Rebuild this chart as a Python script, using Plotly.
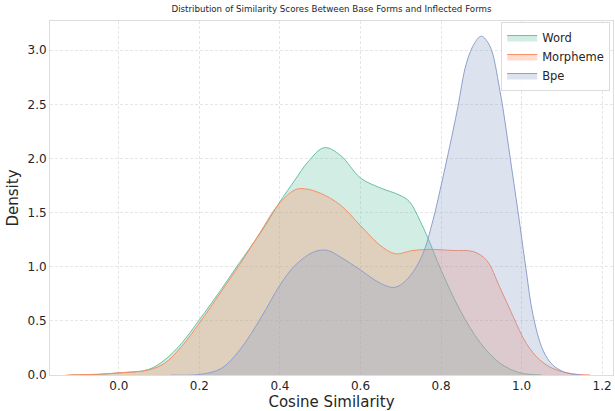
import plotly.graph_objects as go

# ---- data ----
word_x = [-0.12, -0.05, 0.0, 0.073, 0.114, 0.155, 0.2, 0.254, 0.3, 0.353, 0.4, 0.437, 0.47, 0.51,
          0.55, 0.6, 0.648, 0.698, 0.722, 0.747, 0.768, 0.8, 0.847, 0.897, 0.946, 0.996, 1.05]
word_y = [0.0, 0.005, 0.02, 0.05, 0.14, 0.29, 0.51, 0.79, 1.04, 1.32, 1.6, 1.80, 1.97, 2.10,
          2.03, 1.82, 1.73, 1.66, 1.6, 1.43, 1.26, 0.97, 0.6, 0.30, 0.11, 0.02, 0.0]

morph_x = [-0.13, -0.05, 0.0, 0.073, 0.114, 0.155, 0.2, 0.254, 0.3, 0.353, 0.395, 0.437, 0.461,
           0.5, 0.55, 0.6, 0.648, 0.686, 0.73, 0.772, 0.83, 0.88, 0.913, 0.946, 0.979, 1.012,
           1.045, 1.078, 1.128, 1.17]
morph_y = [0.0, 0.008, 0.02, 0.045, 0.11, 0.26, 0.48, 0.77, 1.02, 1.33, 1.57, 1.71, 1.72,
           1.68, 1.57, 1.38, 1.20, 1.12, 1.15, 1.16, 1.15, 1.14, 1.06, 0.81, 0.54, 0.29,
           0.14, 0.06, 0.01, 0.0]

bpe_x = [0.13, 0.2, 0.254, 0.3, 0.353, 0.4, 0.437, 0.486, 0.519, 0.55, 0.6, 0.648, 0.686, 0.722,
         0.755, 0.78, 0.805, 0.83, 0.842, 0.863, 0.884, 0.9, 0.921, 0.946, 0.975, 0.996, 1.012,
         1.028, 1.053, 1.078, 1.111, 1.15]
bpe_y = [0.0, 0.005, 0.06, 0.23, 0.53, 0.83, 1.01, 1.14, 1.15, 1.09, 0.97, 0.85, 0.81, 0.91,
         1.12, 1.43, 1.83, 2.26, 2.48, 2.88, 3.07, 3.13, 3.04, 2.63, 1.92, 1.38, 0.95,
         0.56, 0.23, 0.09, 0.02, 0.0]

series = [
    ("Word", word_x, word_y, "#66c2a5", "rgba(102,194,165,0.3)"),
    ("Morpheme", morph_x, morph_y, "#fc8d62", "rgba(252,141,98,0.3)"),
    ("Bpe", bpe_x, bpe_y, "#8da0cb", "rgba(141,160,203,0.3)"),
]

x_ticks = [0.0, 0.2, 0.4, 0.6, 0.8, 1.0, 1.2]
y_ticks = [0.0, 0.5, 1.0, 1.5, 2.0, 2.5, 3.0]

fig = go.Figure()
for name, xs, ys, line_c, fill_c in series:
    fig.add_trace(go.Scatter(
        x=xs, y=ys, name=name, mode="lines",
        line=dict(color=line_c, width=1, shape="spline", smoothing=1.0),
        fill="tozeroy", fillcolor=fill_c,
    ))

font = "DejaVu Sans"
txt = "#262626"
fig.update_layout(
    width=615, height=411,
    margin=dict(l=50, r=2, t=21, b=36),
    paper_bgcolor="white", plot_bgcolor="white",
    font=dict(family=font, color=txt),
    title=dict(text="Distribution of Similarity Scores Between Base Forms and Inflected Forms",
               font=dict(size=8.7, family=font, color=txt),
               x=0.5, xref="paper", xanchor="center", y=0.985, yanchor="top"),
    legend=dict(x=0.995, y=0.997, xanchor="right", yanchor="top",
                bgcolor="rgba(255,255,255,0.85)", bordercolor="#dcdcdc", borderwidth=1,
                font=dict(size=11.5, family=font, color=txt),
                tracegroupgap=0),
    showlegend=True,
)
fig.update_xaxes(
    range=[-0.171, 1.227], tickvals=x_ticks, ticktext=[f"{v:.1f}" for v in x_ticks],
    showgrid=True, gridcolor="#e6e6e6", griddash="3px,2px", gridwidth=0.8,
    showline=True, linecolor="#dddddd", linewidth=1, mirror=True,
    zeroline=False, ticks="", tickfont=dict(size=12, family=font, color=txt),
    title=dict(text="Cosine Similarity", font=dict(size=15, family=font, color=txt), standoff=5),
)
fig.update_yaxes(
    range=[0, 3.27], tickvals=y_ticks, ticktext=[f"{v:.1f}" for v in y_ticks],
    showgrid=True, gridcolor="#e6e6e6", griddash="3px,2px", gridwidth=0.8,
    showline=True, linecolor="#dddddd", linewidth=1, mirror=True,
    zeroline=False, ticks="", tickfont=dict(size=12, family=font, color=txt),
    title=dict(text="Density", font=dict(size=15, family=font, color=txt), standoff=5),
)

fig.write_html("out.html", config={"displayModeBar": False},
               post_script="document.body.style.margin='0';")
